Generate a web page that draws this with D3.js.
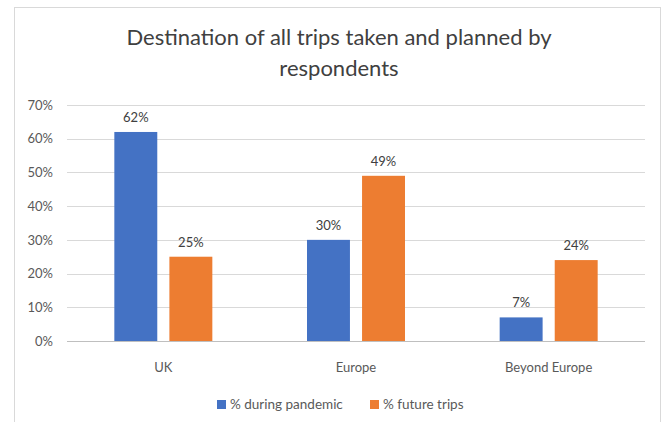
<!DOCTYPE html>
<html>
<head>
<meta charset="utf-8">
<script src="https://cdn.jsdelivr.net/npm/d3@7"></script>
<style>
  html, body { margin: 0; padding: 0; background: #fff; }
  svg { display: block; }
</style>
</head>
<body>
<script>
const categories = ["UK", "Europe", "Beyond Europe"];
const seriesNames = ["% during pandemic", "% future trips"];
const duringPandemic = [62, 30, 7];
const futureTrips = [25, 49, 24];
const yTicks = [0, 10, 20, 30, 40, 50, 60, 70];
const titleLines = ["Destination of all trips taken and planned by", "respondents"];
const colors = ["#4472C4", "#ED7D31"];

const W = 669, H = 422;
const svg = d3.select("body").append("svg").attr("width", W).attr("height", H);

svg.append("rect").attr("x", 14.5).attr("y", 7.5).attr("width", 646).attr("height", 430)
  .attr("fill", "#fff").attr("stroke", "#d9d9d9").attr("stroke-width", 1);

const font = "Lato, Carlito, 'Open Sans', sans-serif";

const title = svg.append("g");
titleLines.forEach((t, i) => {
  title.append("text").attr("x", 339).attr("y", 45 + i * 31)
    .attr("text-anchor", "middle").attr("font-family", font).attr("font-size", 22)
    .attr("fill", "#404040").text(t);
});

const x0 = d3.scaleBand().domain(categories).range([67, 645]).padding(0);
const x1 = d3.scaleBand().domain(seriesNames).range([0, 98]).paddingInner(0.22).paddingOuter(0);
const y = d3.scaleLinear().domain([0, 70]).range([341, 105]);

// gridlines
svg.append("g").selectAll("line").data(yTicks).join("line")
  .attr("x1", 67).attr("x2", 645)
  .attr("y1", d => Math.round(y(d)) + 0.5).attr("y2", d => Math.round(y(d)) + 0.5)
  .attr("stroke", d => d === 0 ? "#bfbfbf" : "#d9d9d9").attr("stroke-width", 1);

// y axis labels
const yAxis = d3.axisLeft(y).tickValues(yTicks).tickFormat(d => d + "%").tickSize(0).tickPadding(0);
const gy = svg.append("g").attr("transform", "translate(53,0)").call(yAxis);
gy.select(".domain").remove();
gy.selectAll("text").attr("font-family", font).attr("font-size", 13).attr("fill", "#595959");

// x axis labels
const xAxis = d3.axisBottom(x0).tickSize(0).tickPadding(0);
const gx = svg.append("g").attr("transform", "translate(0,363)").call(xAxis);
gx.select(".domain").remove();
gx.selectAll("text").attr("font-family", font).attr("font-size", 13).attr("fill", "#595959");

const rows = categories.map((c, i) => ({ cat: c, vals: [duringPandemic[i], futureTrips[i]] }));

const groups = svg.append("g").selectAll("g").data(rows).join("g")
  .attr("transform", d => `translate(${x0(d.cat) + (x0.bandwidth() - 98) / 2},0)`);

groups.selectAll("rect").data(d => d.vals.map((v, j) => ({ v, s: seriesNames[j], j })))
  .join("rect")
  .attr("x", d => x1(d.s)).attr("width", x1.bandwidth())
  .attr("y", d => y(d.v)).attr("height", d => y(0) - y(d.v))
  .attr("fill", d => colors[d.j]);

groups.selectAll("text").data(d => d.vals.map((v, j) => ({ v, s: seriesNames[j], j })))
  .join("text")
  .attr("x", d => x1(d.s) + x1.bandwidth() / 2).attr("y", d => y(d.v) - 10)
  .attr("text-anchor", "middle").attr("font-family", font).attr("font-size", 13)
  .attr("fill", "#404040").text(d => d.v + "%");

// legend
const legendX = [217, 370];
const lg = svg.append("g").selectAll("g").data(seriesNames).join("g")
  .attr("transform", (d, i) => `translate(${legendX[i]},400)`);
lg.append("rect").attr("x", 0).attr("y", 0).attr("width", 9).attr("height", 9)
  .attr("fill", (d, i) => colors[i]);
lg.append("text").attr("x", 13).attr("y", 9).attr("font-family", font).attr("font-size", 13.5)
  .attr("fill", "#595959").text(d => d);
</script>
</body>
</html>
